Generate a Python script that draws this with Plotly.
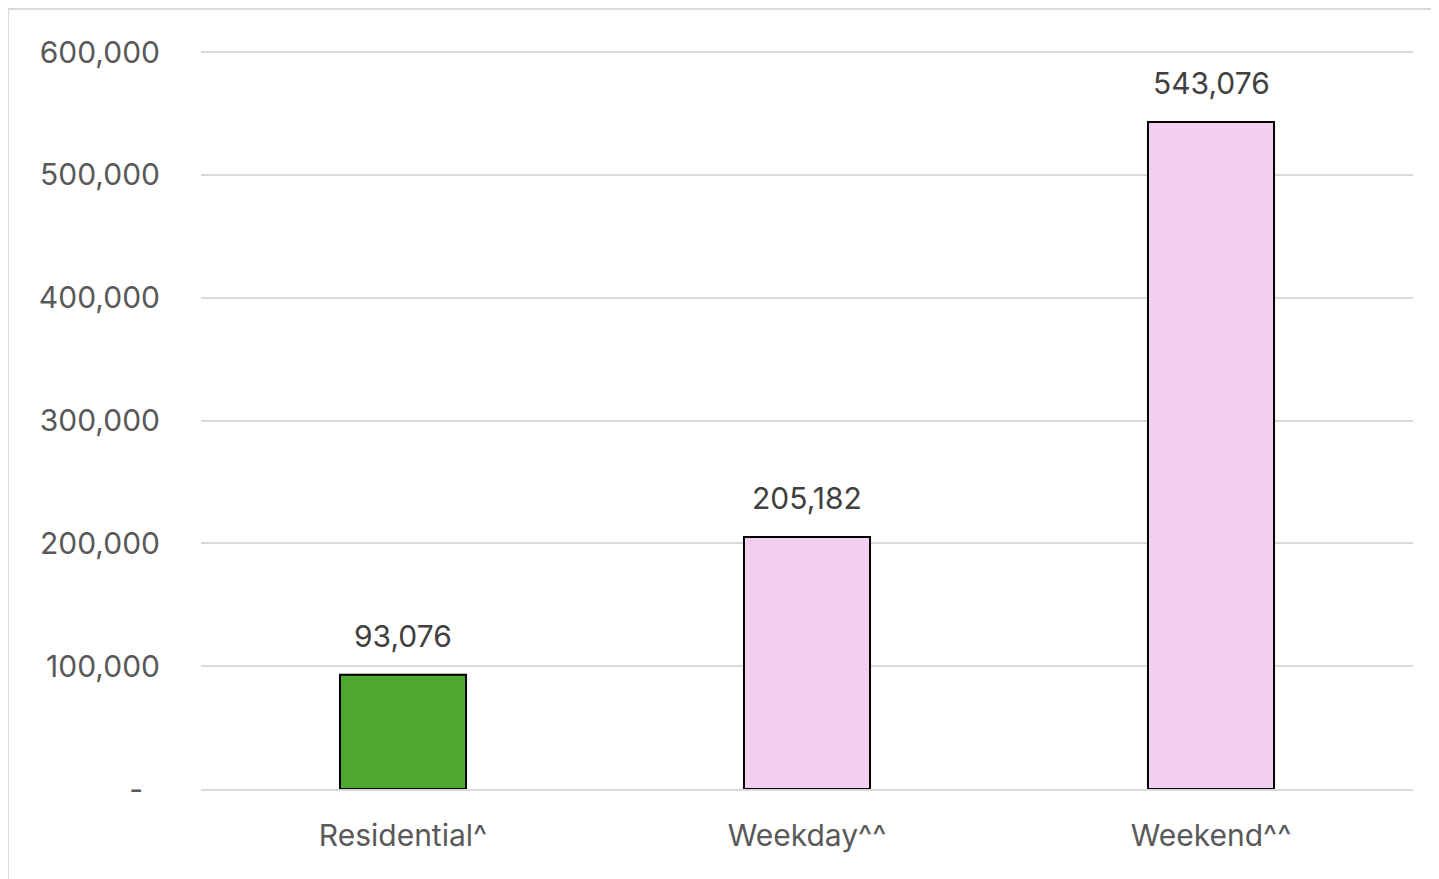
import plotly.graph_objects as go

categories = ["Residential^", "Weekday^^", "Weekend^^"]
values = [93076, 205182, 543076]
bar_colors = ["#4EA72E", "#F2CEEF", "#F2CEEF"]
tick_vals = [0, 100000, 200000, 300000, 400000, 500000, 600000]
tick_text = ["-\u00a0\u00a0", "100,000", "200,000", "300,000", "400,000", "500,000", "600,000"]

FONT = "Inter"

fig = go.Figure()
fig.add_trace(go.Bar(
    x=categories, y=values,
    marker=dict(color=bar_colors, line=dict(color="#000000", width=2)),
    width=0.312,
    hoverinfo="skip",
))

for c, v in zip(categories, values):
    fig.add_annotation(x=c, y=v, text=f"{v:,}", showarrow=False,
                       yanchor="bottom", yshift=19,
                       font=dict(family=FONT, size=30, color="#404040"))

# page has an 8px body margin; compensate
OFF = 8
W, H = 1439 - OFF, 879 - OFF
L, R, T, B = 201 - OFF, 26, 50 - OFF, 90
pw, ph = W - L - R, H - T - B

def px(x):
    return (x - OFF - L) / pw

def py(y):
    return (H - B - (y - OFF)) / ph

border = dict(color="#D9D9D9", width=2)
fig.add_shape(type="line", xref="paper", yref="paper",
              x0=px(8), x1=px(1445), y0=py(9), y1=py(9), line=border)
fig.add_shape(type="line", xref="paper", yref="paper",
              x0=px(8), x1=px(8), y0=py(9), y1=py(885), line=border)

ymax = 600000 * (789 - 50) / (789 - 52)

fig.update_layout(
    width=W, height=H,
    margin=dict(l=L, r=R, t=T, b=B),
    plot_bgcolor="white", paper_bgcolor="white",
    showlegend=False,
    font=dict(family=FONT, size=30, color="#595959"),
    xaxis=dict(showgrid=False, showline=True, linecolor="#D9D9D9", linewidth=2,
               ticks="", ticklabelstandoff=19,
               tickfont=dict(family=FONT, size=30, color="#595959")),
    yaxis=dict(range=[0, ymax], tickvals=tick_vals, ticktext=tick_text,
               showgrid=True, gridcolor="#D9D9D9", gridwidth=2,
               zeroline=False, showline=False, ticks="",
               ticklabelstandoff=40,
               tickfont=dict(family=FONT, size=30, color="#595959")),
)

fig.write_html("out.html")
